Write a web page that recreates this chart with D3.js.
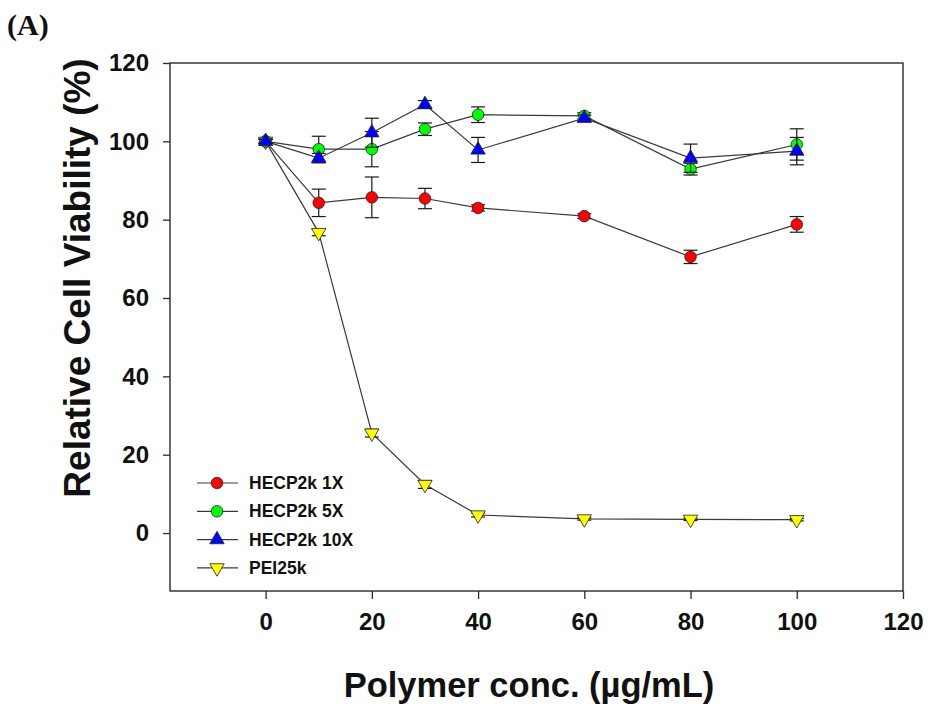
<!DOCTYPE html>
<html><head><meta charset="utf-8">
<script src="https://cdn.jsdelivr.net/npm/d3@7"></script>
<style>body{margin:0;background:#fff}svg{display:block}</style>
</head><body>
<svg id="chart" width="928" height="709"></svg>
<script>
const concs = [0, 10, 20, 30, 40, 60, 80, 100];
const seriesNames = ["HECP2k 1X", "HECP2k 5X", "HECP2k 10X", "PEI25k"];
const red1X   = [100, 84.3, 85.7, 85.4, 83.0, 80.9, 70.5, 78.8];
const red1XErr = [0.5, 3.5, 5.2, 2.6, 0.8, 0.6, 1.7, 2.0];
const green5X   = [100, 98.0, 98.0, 103.1, 106.8, 106.5, 92.9, 99.2];
const green5XErr = [0.5, 3.3, 4.5, 1.6, 2.0, 0.8, 1.5, 4.0];
const blue10X   = [100, 95.7, 102.2, 109.4, 97.8, 105.9, 95.7, 97.5];
const blue10XErr = [0.5, 1.2, 3.7, 1.0, 3.2, 0.8, 3.6, 3.5];
const pei25k   = [100, 76.7, 25.5, 12.4, 4.6, 3.6, 3.5, 3.4];
const pei25kErr = [0.5, 0.8, 1.0, 1.0, 0.5, 0.3, 0.3, 0.3];
const xTicks = [0, 20, 40, 60, 80, 100, 120];
const yTicks = [0, 20, 40, 60, 80, 100, 120];

const svg = d3.select("#chart");
const F = "'Liberation Sans', Arial, sans-serif";
const L = 170, R = 903, T = 63, B = 591;
const x = d3.scaleLinear().domain([-18, 120]).range([L, R]);
const y = d3.scaleLinear().domain([-14.8, 120]).range([B, T]);

const series = [
  {name: seriesNames[3], vals: pei25k, err: pei25kErr, fill: "#ffff00", shape: "down"},
  {name: seriesNames[0], vals: red1X, err: red1XErr, fill: "#ff0000", shape: "circle"},
  {name: seriesNames[1], vals: green5X, err: green5XErr, fill: "#00ff00", shape: "circle"},
  {name: seriesNames[2], vals: blue10X, err: blue10XErr, fill: "#0000ff", shape: "up"}
];

// frame
svg.append("rect").attr("x", L).attr("y", T).attr("width", R - L).attr("height", B - T)
  .attr("fill", "none").attr("stroke", "#2a2a2a").attr("stroke-width", 1.4);

// axes
const xAxis = d3.axisBottom(x).tickValues(xTicks).tickSize(8).tickPadding(14);
const gx = svg.append("g").attr("transform", `translate(0,${B})`).call(xAxis);
gx.select(".domain").remove();
gx.selectAll("line").attr("stroke", "#2a2a2a").attr("stroke-width", 1.3);
gx.selectAll("text").attr("font-family", F).attr("font-weight", "bold").attr("font-size", 24).attr("fill", "#111");

const yAxis = d3.axisLeft(y).tickValues(yTicks).tickSize(7).tickPadding(14);
const gy = svg.append("g").attr("transform", `translate(${L},0)`).call(yAxis);
gy.select(".domain").remove();
gy.selectAll("line").attr("stroke", "#2a2a2a").attr("stroke-width", 1.3);
gy.selectAll("text").attr("font-family", F).attr("font-weight", "bold").attr("font-size", 24).attr("fill", "#111");

// titles
svg.append("text").attr("x", 529).attr("y", 697).attr("text-anchor", "middle")
  .attr("font-family", F).attr("font-weight", "bold").attr("font-size", 34.5).attr("fill", "#111")
  .text("Polymer conc. (µg/mL)");
svg.append("text").attr("transform", "translate(90,278) rotate(-90)").attr("text-anchor", "middle")
  .attr("font-family", F).attr("font-weight", "bold").attr("font-size", 37).attr("fill", "#111")
  .text("Relative Cell Viability (%)");
svg.append("text").attr("x", 7).attr("y", 35)
  .attr("font-family", "'Liberation Serif', 'Times New Roman', serif").attr("font-weight", "bold")
  .attr("font-size", 30).attr("fill", "#111").text("(A)");

const sym = {
  circle: d3.symbol().type(d3.symbolCircle).size(105),
  up: d3.symbol().type(d3.symbolTriangle).size(90),
  down: d3.symbol().type(d3.symbolTriangle).size(90)
};
function place(s, cx, cy) {
  if (s.shape === "down") return `translate(${cx},${cy}) rotate(180)`;
  return `translate(${cx},${cy})`;
}

const line = d3.line().x((d, i) => x(concs[i])).y(d => y(d));
series.forEach(s => {
  const g = svg.append("g");
  g.append("path").attr("d", line(s.vals)).attr("fill", "none")
    .attr("stroke", "#3a3a3a").attr("stroke-width", 1.2);
  // error bars
  s.vals.forEach((v, i) => {
    const e = s.err[i];
    if (e <= 0) return;
    const cx = x(concs[i]);
    const eg = g.append("g").attr("stroke", "#1a1a1a").attr("stroke-width", 1.2);
    eg.append("line").attr("x1", cx).attr("x2", cx).attr("y1", y(v + e)).attr("y2", y(v - e));
    eg.append("line").attr("x1", cx - 7).attr("x2", cx + 7).attr("y1", y(v + e)).attr("y2", y(v + e));
    eg.append("line").attr("x1", cx - 7).attr("x2", cx + 7).attr("y1", y(v - e)).attr("y2", y(v - e));
  });
  g.selectAll("path.m").data(s.vals).enter().append("path").attr("class", "m")
    .attr("d", sym[s.shape]).attr("transform", (d, i) => place(s, x(concs[i]), y(d)))
    .attr("fill", s.fill).attr("stroke", "#222").attr("stroke-width", 0.8);
});

// legend
const legendOrder = [series[1], series[2], series[3], series[0]];
const lg = svg.append("g");
legendOrder.forEach((s, k) => {
  const ly = 483 + k * 28.3;
  lg.append("line").attr("x1", 197).attr("x2", 238).attr("y1", ly).attr("y2", ly)
    .attr("stroke", "#3a3a3a").attr("stroke-width", 1.2);
  lg.append("path").attr("d", sym[s.shape]).attr("transform", place(s, 217, ly))
    .attr("fill", s.fill).attr("stroke", "#222").attr("stroke-width", 0.8);
  lg.append("text").attr("x", 249).attr("y", ly + 6).attr("font-family", F)
    .attr("font-weight", "bold").attr("font-size", 17.5).attr("fill", "#111").text(s.name);
});
</script>
</body></html>
